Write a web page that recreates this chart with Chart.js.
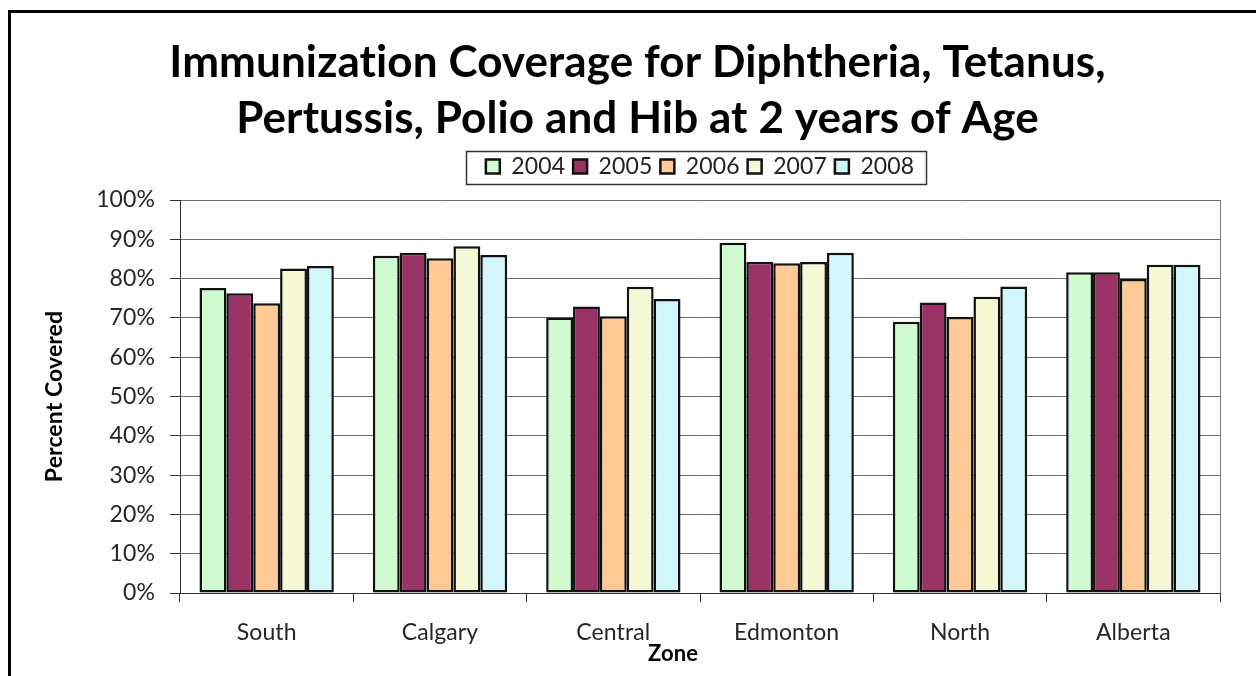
<!DOCTYPE html>
<html>
<head>
<meta charset="utf-8">
<script src="https://cdn.jsdelivr.net/npm/chart.js@4.4.1/dist/chart.umd.min.js"></script>
<style>
    html, body { margin: 0; padding: 0; background: #fff; overflow: hidden; }
    #wrap { position: relative; width: 1256px; height: 676px; }
    /* marco exterior del gráfico (se sale por la derecha y por abajo) */
    #frame { position: absolute; left: 8px; top: 10px; width: 1400px; height: 800px; border: 3px solid #000; }
    canvas { position: absolute; left: 0; top: 0; }
</style>
</head>
<body>
<div id="wrap">
    <div id="frame"></div>
    <canvas id="myChart" width="1256" height="676"></canvas>
</div>
<script>
// Datos (porcentaje cubierto)
const zones = ['South', 'Calgary', 'Central', 'Edmonton', 'North', 'Alberta'];
const years = ['2004', '2005', '2006', '2007', '2008'];
const cov2004 = [77.6, 85.8, 70.1, 89.1, 69.0, 81.6];
const cov2005 = [76.3, 86.6, 72.9, 84.2, 73.9, 81.6];
const cov2006 = [73.7, 85.2, 70.4, 83.9, 70.2, 79.9];
const cov2007 = [82.6, 88.2, 77.9, 84.2, 75.4, 83.5];
const cov2008 = [83.2, 86.0, 74.8, 86.6, 78.0, 83.5];
const yTicks = [0, 10, 20, 30, 40, 50, 60, 70, 80, 90, 100];

const colors = ['#d0fbd0', '#993366', '#ffca96', '#f4f8d5', '#d2f6fc'];
const series = [cov2004, cov2005, cov2006, cov2007, cov2008];

const FONT = 'Lato, "Open Sans", sans-serif';

// Quita las ligaduras de Lato ("ti") con un espaciado mínimo entre letras
function noLigatures(chart) {
    chart.ctx.letterSpacing = '0.1px';
}

// Dibuja el recuadro de la leyenda, el borde derecho del área y el título "Zone"
const extras = {
    id: 'extras',
    beforeLayout: noLigatures,
    beforeDraw: noLigatures,
    afterDraw(chart) {
        const { ctx, chartArea } = chart;
        ctx.save();

        // borde derecho del área de trazado
        ctx.strokeStyle = '#7a7a7a';
        ctx.lineWidth = 1;
        ctx.beginPath();
        ctx.moveTo(Math.round(chartArea.right) + 0.5, chartArea.top);
        ctx.lineTo(Math.round(chartArea.right) + 0.5, chartArea.bottom);
        ctx.stroke();

        // recuadro de la leyenda
        const boxes = chart.legend.legendHitBoxes;
        if (boxes && boxes.length) {
            const first = boxes[0];
            const last = boxes[boxes.length - 1];
            const cy = first.top + first.height / 2;
            const x0 = Math.round(first.left - 20) + 0.5;
            const x1 = Math.round(last.left + last.width + 12) + 0.5;
            ctx.strokeStyle = '#333';
            ctx.lineWidth = 1.5;
            ctx.strokeRect(x0, Math.round(cy - 16) + 0.5, x1 - x0, 33);
        }

        // título del eje X
        ctx.fillStyle = '#000';
        ctx.font = 'bold 22px ' + FONT;
        ctx.textAlign = 'center';
        ctx.textBaseline = 'alphabetic';
        ctx.fillText('Zone', (chartArea.left + chartArea.right) / 2 - 27, chartArea.bottom + 68);
        ctx.restore();
    }
};

const ctx = document.getElementById('myChart').getContext('2d');

new Chart(ctx, {
    type: 'bar',
    data: {
        labels: zones,
        datasets: years.map((y, i) => ({
            label: y,
            data: series[i],
            backgroundColor: colors[i],
            borderColor: '#111',
            borderWidth: 2.5,
            borderSkipped: false
        }))
    },
    options: {
        responsive: false,
        animation: false,
        devicePixelRatio: 1,
        layout: { padding: { left: 55, right: 36, top: 0, bottom: 23 } },
        datasets: {
            bar: { categoryPercentage: 0.775, barPercentage: 1.0 }
        },
        plugins: {
            title: {
                display: true,
                text: ['Immunization Coverage for Diphtheria, Tetanus,', 'Pertussis, Polio and Hib at 2 years of Age'],
                color: '#000',
                font: { family: FONT, size: 44, weight: 'bold', lineHeight: '56px' },
                padding: { top: 35, bottom: 0 }
            },
            // espaciador entre la leyenda y el área de trazado
            subtitle: {
                display: true,
                text: '',
                position: 'top',
                weight: 500,
                font: { size: 10, lineHeight: '12px' },
                padding: 0
            },
            legend: {
                position: 'top',
                fullSize: false,
                labels: {
                    color: '#222',
                    font: { family: FONT, size: 23 },
                    boxWidth: 14,
                    boxHeight: 14,
                    padding: 8
                }
            },
            tooltip: { enabled: false }
        },
        scales: {
            x: {
                grid: {
                    drawOnChartArea: false,
                    tickLength: 9,
                    tickColor: '#333'
                },
                border: { color: '#333', width: 1 },
                ticks: {
                    color: '#262626',
                    font: { family: FONT, size: 23 },
                    padding: 17,
                    maxRotation: 0
                },
                afterFit(scale) { scale.height = 60; }
            },
            y: {
                min: 0,
                max: 100,
                afterBuildTicks(scale) { scale.ticks = yTicks.map(v => ({ value: v })); },
                grid: {
                    color: '#6e6e6e',
                    tickLength: 10,
                    tickColor: '#333'
                },
                border: { color: '#333', width: 1 },
                ticks: {
                    color: '#262626',
                    font: { family: FONT, size: 23 },
                    padding: 15,
                    callback: v => v + '%'
                },
                title: {
                    display: true,
                    text: 'Percent Covered',
                    color: '#000',
                    font: { family: FONT, size: 23, weight: 'bold', lineHeight: 1.2 },
                    padding: { top: -14, bottom: 0 }
                },
                afterFit(scale) { scale.width = 125; }
            }
        }
    },
    plugins: [extras]
});
</script>
</body>
</html>
